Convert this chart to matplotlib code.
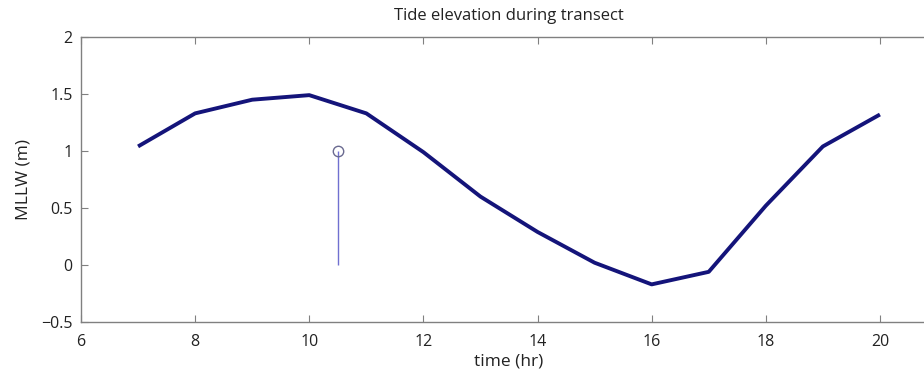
import numpy as np
import matplotlib
matplotlib.use("Agg")
import matplotlib.pyplot as plt

# tide elevation (MLLW) vs hour
hours = [7, 8, 9, 10, 11, 12, 13, 14, 15, 16, 17, 18, 19, 20]
elev = [1.04, 1.33, 1.45, 1.49, 1.33, 0.99, 0.60, 0.29, 0.02, -0.17, -0.06, 0.52, 1.04, 1.32]

# transect time marker
transect_t = [10.5]
transect_y = [1.0]

plt.rcParams['font.family'] = ['Open Sans', 'DejaVu Sans']

fig = plt.figure(figsize=(9.24, 3.75), dpi=100)
ax = fig.add_axes([81 / 924, 1 - 322 / 375, (937 - 81) / 924, (322 - 37) / 375])

ax.plot(hours, elev, color='#14147a', lw=2.8, solid_capstyle='butt')

ml, sl, bl = ax.stem(transect_t, transect_y, basefmt=' ')
plt.setp(sl, color='#7070d0', lw=1.0)
plt.setp(ml, marker='o', markersize=7.5, markerfacecolor='none',
         markeredgecolor='#6a6a90', markeredgewidth=1.0)

ax.set_xlim(6, 21)
ax.set_ylim(-0.5, 2)
ax.set_xticks([6, 8, 10, 12, 14, 16, 18, 20])
ax.set_yticks([-0.5, 0, 0.5, 1, 1.5, 2])
ax.set_yticklabels(['\u22120.5', '0', '0.5', '1', '1.5', '2'])

for s in ax.spines.values():
    s.set_color('#808080')
    s.set_linewidth(1.0)
ax.tick_params(direction='in', length=5, color='#808080', labelsize=11.5,
               labelcolor='#222222', top=True, right=True)
ax.tick_params(axis='x', pad=9)
ax.tick_params(axis='y', pad=6)

ax.set_title('Tide elevation during transect', fontsize=12, color='#222222', pad=12)
ax.set_xlabel('time (hr)', fontsize=12.5, color='#222222', labelpad=2)
ax.set_ylabel('MLLW (m)', fontsize=12.5, color='#222222', labelpad=7)

fig.savefig('out.png', dpi=100)
